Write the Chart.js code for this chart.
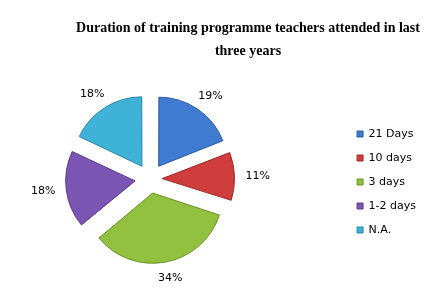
<!DOCTYPE html>
<html>
<head>
<meta charset="utf-8">
<script src="https://cdn.jsdelivr.net/npm/chart.js@4.4.1/dist/chart.umd.min.js"></script>
<style>
  html, body { margin: 0; padding: 0; background: #fff; }
  #wrap { width: 446px; height: 297px; }
</style>
</head>
<body>
<div id="wrap"><canvas id="pie" width="446" height="297"></canvas></div>
<script>
// values
const categories = ['21 Days', '10 days', '3 days', '1-2 days', 'N.A.'];
const shares = [19, 11, 34, 18, 18];
const titleLines = ['Duration of training programme teachers attended in last', 'three years'];

const fills = ['#3f7bd1', '#d03d3d', '#92c13f', '#7b55b3', '#3fb2d8'];
const edges = ['#2b5999', '#982b2b', '#6a8f2b', '#563b83', '#2a83a1'];

// every slice pulled out by about the same distance
const pullOut = 16.5;
const total = shares.reduce((a, b) => a + b, 0);
function sliceOffset(i) {
  const circ = shares[i] / total * Math.PI * 2;
  const fix = 1 - Math.sin(Math.min(Math.PI, circ));
  return 4 * pullOut / (1 + fix);
}

const headline = {
  id: 'headline',
  afterDraw(chart) {
    const ctx = chart.ctx;
    ctx.save();
    ctx.font = 'bold 14px "Liberation Serif"';
    ctx.fillStyle = '#000';
    ctx.textAlign = 'center';
    ctx.textBaseline = 'middle';
    titleLines.forEach((line, i) => ctx.fillText(line, 248, 28 + i * 23));
    ctx.restore();
  }
};

const percentLabels = {
  id: 'percentLabels',
  afterDatasetsDraw(chart) {
    const ctx = chart.ctx;
    const meta = chart.getDatasetMeta(0);
    ctx.save();
    ctx.font = '11px "DejaVu Sans"';
    ctx.fillStyle = '#000';
    ctx.textAlign = 'center';
    ctx.textBaseline = 'middle';
    meta.data.forEach((arc, i) => {
      const p = arc.getProps(['x', 'y', 'startAngle', 'endAngle', 'outerRadius', 'circumference'], true);
      const mid = (p.startAngle + p.endAngle) / 2;
      const o = (arc.options.offset || 0) / 4;
      const shift = o * (2 - Math.sin(Math.min(Math.PI, p.circumference)));
      const text = shares[i] + '%';
      const w = ctx.measureText(text).width;
      const r = p.outerRadius + shift + 11;
      const cx = p.x + Math.cos(mid) * (r + w / 2);
      const cy = p.y + Math.sin(mid) * (r + 5);
      ctx.fillText(text, cx, cy);
    });
    ctx.restore();
  }
};

new Chart(document.getElementById('pie'), {
  type: 'pie',
  data: {
    labels: categories,
    datasets: [{
      data: shares,
      backgroundColor: fills,
      borderColor: edges,
      borderWidth: 1,
      offset: shares.map((v, i) => sliceOffset(i)),
      hoverOffset: 0,
      radius: 68,
      clip: false
    }]
  },
  options: {
    responsive: false,
    animation: false,
    events: [],
    layout: { padding: { top: 109.5, bottom: 48.5, left: 0, right: 20 } },
    plugins: {
      title: { display: false },
      // empty box on the right, keeps the legend away from the pie
      subtitle: {
        display: true,
        text: ' ',
        position: 'right',
        weight: 500,
        font: { size: 10, lineHeight: 1.2 },
        padding: { top: 16, bottom: 16 }
      },
      tooltip: { enabled: false },
      legend: {
        position: 'right',
        align: 'end',
        labels: {
          boxWidth: 6,
          boxHeight: 6,
          padding: 13,
          color: '#000',
          font: { family: 'DejaVu Sans', size: 11 }
        }
      }
    }
  },
  plugins: [headline, percentLabels]
});
</script>
</body>
</html>
